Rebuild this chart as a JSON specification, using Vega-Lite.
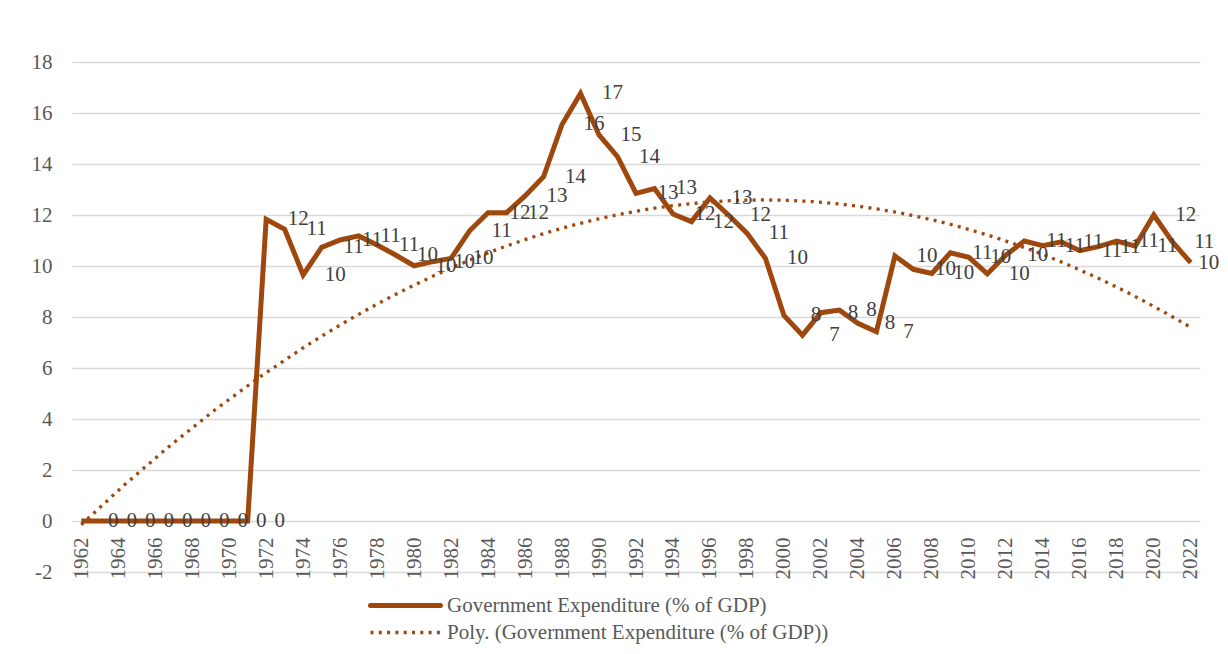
{
  "$schema": "https://vega.github.io/schema/vega-lite/v6.json",
  "autosize": "none",
  "width": 1128,
  "height": 510,
  "padding": {"left": 72, "top": 62, "right": 28, "bottom": 82},
  "background": "white",
  "config": {
    "view": {"stroke": null},
    "font": "Times New Roman, Liberation Serif, DejaVu Serif, serif",
    "text": {"font": "Times New Roman, Liberation Serif, DejaVu Serif, serif"},
    "style": {"guide-label": {"font": "Times New Roman, Liberation Serif, DejaVu Serif, serif"}},
    "axis": {"labelFont": "Times New Roman, Liberation Serif, DejaVu Serif, serif", "labelFontSize": 21, "labelColor": "#595959"},
    "legend": {"labelFont": "Times New Roman, Liberation Serif, DejaVu Serif, serif", "labelFontSize": 21, "labelColor": "#595959", "labelLimit": 0}
  },
  "data": {"values": [
    {"year": 1962, "value": 0}, {"year": 1963, "value": 0}, {"year": 1964, "value": 0}, {"year": 1965, "value": 0},
    {"year": 1966, "value": 0}, {"year": 1967, "value": 0}, {"year": 1968, "value": 0}, {"year": 1969, "value": 0},
    {"year": 1970, "value": 0}, {"year": 1971, "value": 0}, {"year": 1972, "value": 11.83}, {"year": 1973, "value": 11.44},
    {"year": 1974, "value": 9.65}, {"year": 1975, "value": 10.73}, {"year": 1976, "value": 11.02}, {"year": 1977, "value": 11.18},
    {"year": 1978, "value": 10.82}, {"year": 1979, "value": 10.43}, {"year": 1980, "value": 10.01}, {"year": 1981, "value": 10.17},
    {"year": 1982, "value": 10.3}, {"year": 1983, "value": 11.38}, {"year": 1984, "value": 12.09}, {"year": 1985, "value": 12.09},
    {"year": 1986, "value": 12.75}, {"year": 1987, "value": 13.5}, {"year": 1988, "value": 15.55}, {"year": 1989, "value": 16.77},
    {"year": 1990, "value": 15.14}, {"year": 1991, "value": 14.29}, {"year": 1992, "value": 12.85}, {"year": 1993, "value": 13.04},
    {"year": 1994, "value": 12.04}, {"year": 1995, "value": 11.74}, {"year": 1996, "value": 12.67}, {"year": 1997, "value": 12.0},
    {"year": 1998, "value": 11.29}, {"year": 1999, "value": 10.3}, {"year": 2000, "value": 8.06}, {"year": 2001, "value": 7.29},
    {"year": 2002, "value": 8.17}, {"year": 2003, "value": 8.27}, {"year": 2004, "value": 7.75}, {"year": 2005, "value": 7.42},
    {"year": 2006, "value": 10.39}, {"year": 2007, "value": 9.87}, {"year": 2008, "value": 9.71}, {"year": 2009, "value": 10.52},
    {"year": 2010, "value": 10.34}, {"year": 2011, "value": 9.69}, {"year": 2012, "value": 10.43}, {"year": 2013, "value": 10.98},
    {"year": 2014, "value": 10.8}, {"year": 2015, "value": 10.95}, {"year": 2016, "value": 10.6}, {"year": 2017, "value": 10.76},
    {"year": 2018, "value": 10.98}, {"year": 2019, "value": 10.78}, {"year": 2020, "value": 12.0}, {"year": 2021, "value": 10.95},
    {"year": 2022, "value": 10.13}
  ]},
  "encoding": {
    "x": {
      "field": "year", "type": "quantitative",
      "scale": {"domain": [1961.5, 2022.5], "nice": false, "zero": false},
      "axis": {
        "title": null,
        "values": [1962,1964,1966,1968,1970,1972,1974,1976,1978,1980,1982,1984,1986,1988,1990,1992,1994,1996,1998,2000,2002,2004,2006,2008,2010,2012,2014,2016,2018,2020,2022],
        "format": "d", "labelAngle": -90, "labelPadding": 16, "ticks": false, "grid": false,
        "domain": false, "offset": -51, "labelOverlap": false, "labelFlush": false,
        "labelFont": "Times New Roman, Liberation Serif, DejaVu Serif, serif", "labelFontSize": 21
      }
    },
    "y": {
      "field": "value", "type": "quantitative",
      "scale": {"domain": [-2, 18], "nice": false},
      "axis": {
        "title": null, "values": [-2,0,2,4,6,8,10,12,14,16,18],
        "labelExpr": "'' + datum.value",
        "ticks": false, "domain": false, "labelPadding": 20,
        "gridColor": "#d9d9d9", "gridWidth": 1.5,
        "labelFont": "Times New Roman, Liberation Serif, DejaVu Serif, serif", "labelFontSize": 21
      }
    }
  },
  "layer": [
    {
      "transform": [{"regression": "value", "on": "year", "method": "poly", "order": 2, "extent": [1962, 2022]}],
      "mark": {"type": "line", "strokeCap": "butt", "strokeDash": [3, 5.3], "strokeWidth": 3.3},
      "encoding": {
        "color": {"datum": "Poly. (Government Expenditure (% of GDP))", "type": "nominal",
          "scale": {"domain": ["Government Expenditure (% of GDP)", "Poly. (Government Expenditure (% of GDP))"], "range": ["#9E480E", "#9E480E"]},
          "legend": {"title": null, "orient": "none", "legendX": 323, "legendY": 533, "direction": "vertical",
            "symbolType": "stroke", "symbolSize": 4900, "labelOffset": 31, "rowPadding": 5, "padding": 0,
            "encode": {"symbols": {"update": {
              "strokeDash": {"signal": "datum.value == 'Government Expenditure (% of GDP)' ? [1, 0] : [3, 5.3]"},
              "strokeWidth": {"signal": "datum.value == 'Government Expenditure (% of GDP)' ? 5 : 3.3"},
              "strokeCap": {"signal": "datum.value == 'Government Expenditure (% of GDP)' ? 'round' : 'butt'"}
            }}}
          }
        }
      }
    },
    {
      "mark": {"type": "line", "strokeJoin": "miter", "strokeWidth": 5},
      "encoding": {
        "color": {"datum": "Government Expenditure (% of GDP)", "type": "nominal"}
      }
    },
    {
      "transform": [{"filter": "datum.year < 2022"}],
      "mark": {"type": "text", "align": "center", "baseline": "middle", "dx": 32, "fontSize": 21, "color": "#404040", "font": "Times New Roman, Liberation Serif, DejaVu Serif, serif"},
      "encoding": {"text": {"field": "value", "type": "quantitative", "format": ".0f"}}
    },
    {
      "transform": [{"filter": "datum.year == 2022"}],
      "mark": {"type": "text", "align": "center", "baseline": "middle", "dx": 18, "fontSize": 21, "color": "#404040", "font": "Times New Roman, Liberation Serif, DejaVu Serif, serif"},
      "encoding": {"text": {"field": "value", "type": "quantitative", "format": ".0f"}}
    }
  ]
}
